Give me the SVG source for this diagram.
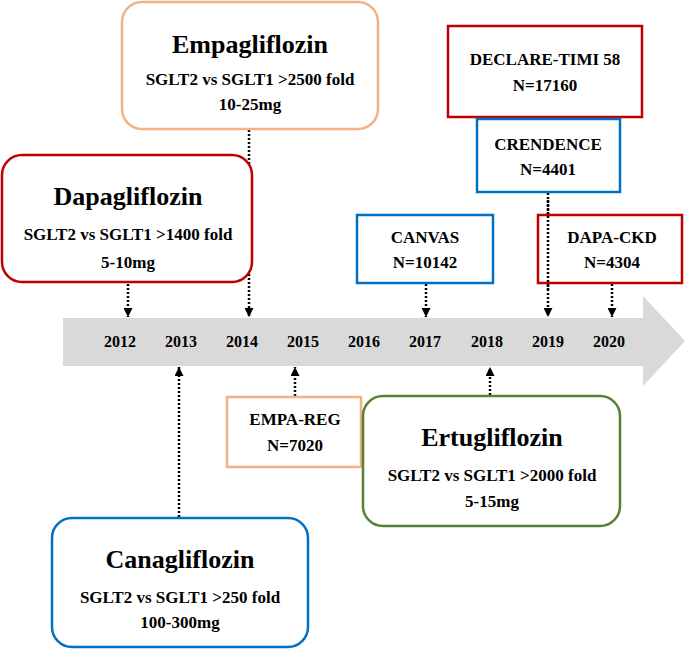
<svg xmlns="http://www.w3.org/2000/svg" width="685" height="649" viewBox="0 0 685 649">
<style>
text{font-family:"Liberation Serif","Times New Roman",serif;font-weight:bold;fill:#000;text-anchor:middle}
.t{font-size:26px}
.s{font-size:17px}
.y{font-size:16px}
.box{fill:#fff;stroke-width:2.5}
.red{stroke:#C00000}
.blue{stroke:#0070C0}
.peach{stroke:#F4B183}
.green{stroke:#548235}
.c{stroke:#000;stroke-width:2.5;stroke-dasharray:2 2;fill:none;marker-end:url(#ah)}
</style>
<defs>
<marker id="ah" viewBox="0 0 10 10" refX="10" refY="5" markerWidth="9" markerHeight="9" markerUnits="userSpaceOnUse" orient="auto">
<path d="M0,0 L10,5 L0,10 Z" fill="#000"/>
</marker>
</defs>
<rect width="685" height="649" fill="#fff"/>
<g id="timeline">
<polygon points="63,318 643,318 643,296 685,341 643,386 643,366 63,366" fill="#D9D9D9"/>
<text class="y" x="120" y="347">2012</text>
<text class="y" x="181" y="347">2013</text>
<text class="y" x="242" y="347">2014</text>
<text class="y" x="303" y="347">2015</text>
<text class="y" x="364" y="347">2016</text>
<text class="y" x="425" y="347">2017</text>
<text class="y" x="487" y="347">2018</text>
<text class="y" x="548" y="347">2019</text>
<text class="y" x="609" y="347">2020</text>
</g>
<g id="connectors">
<line class="c" x1="128" y1="284" x2="128" y2="317"/>
<line class="c" x1="249" y1="130" x2="249" y2="317"/>
<line class="c" x1="426" y1="284" x2="426" y2="317"/>
<line class="c" x1="548" y1="193" x2="548" y2="317"/>
<line class="c" x1="612" y1="284" x2="612" y2="317"/>
<line class="c" x1="179" y1="517" x2="179" y2="367"/>
<line class="c" x1="295" y1="396" x2="295" y2="367"/>
<line class="c" x1="490" y1="395" x2="490" y2="367"/>
</g>
<g id="empagliflozin">
<rect class="box peach" x="122" y="2" width="256" height="127" rx="20"/>
<text class="t" x="250" y="53">Empagliflozin</text>
<text class="s" x="250" y="85">SGLT2 vs SGLT1 &gt;2500 fold</text>
<text class="s" x="250" y="110">10-25mg</text>
</g>
<g id="dapagliflozin">
<rect class="box red" x="2" y="155" width="250" height="127" rx="20"/>
<text class="t" x="128" y="205">Dapagliflozin</text>
<text class="s" x="128" y="240">SGLT2 vs SGLT1 &gt;1400 fold</text>
<text class="s" x="128" y="268">5-10mg</text>
</g>
<g id="declare">
<rect class="box red" x="448" y="26" width="194" height="91"/>
<text class="s" x="545" y="65">DECLARE-TIMI 58</text>
<text class="s" x="545" y="91">N=17160</text>
</g>
<g id="crendence">
<rect class="box blue" x="477" y="119" width="143" height="73"/>
<text class="s" x="548" y="150">CRENDENCE</text>
<text class="s" x="548" y="175">N=4401</text>
</g>
<g id="canvas">
<rect class="box blue" x="357" y="215" width="136" height="68"/>
<text class="s" x="425" y="243">CANVAS</text>
<text class="s" x="425" y="268">N=10142</text>
</g>
<g id="dapa-ckd">
<rect class="box red" x="538" y="215" width="144" height="68"/>
<text class="s" x="612" y="243">DAPA-CKD</text>
<text class="s" x="612" y="268">N=4304</text>
</g>
<line class="c" x1="548" y1="200" x2="548" y2="290" style="marker-end:none"/>
<g id="empa-reg">
<rect class="box peach" x="227" y="397" width="134" height="70"/>
<text class="s" x="295" y="425">EMPA-REG</text>
<text class="s" x="295" y="451">N=7020</text>
</g>
<g id="ertugliflozin">
<rect class="box green" x="363" y="396" width="257" height="130" rx="20"/>
<text class="t" x="492" y="446">Ertugliflozin</text>
<text class="s" x="492" y="481">SGLT2 vs SGLT1 &gt;2000 fold</text>
<text class="s" x="492" y="507">5-15mg</text>
</g>
<g id="canagliflozin">
<rect class="box blue" x="52" y="518" width="256" height="129" rx="20"/>
<text class="t" x="180" y="568">Canagliflozin</text>
<text class="s" x="180" y="603">SGLT2 vs SGLT1 &gt;250 fold</text>
<text class="s" x="180" y="628">100-300mg</text>
</g>
</svg>
